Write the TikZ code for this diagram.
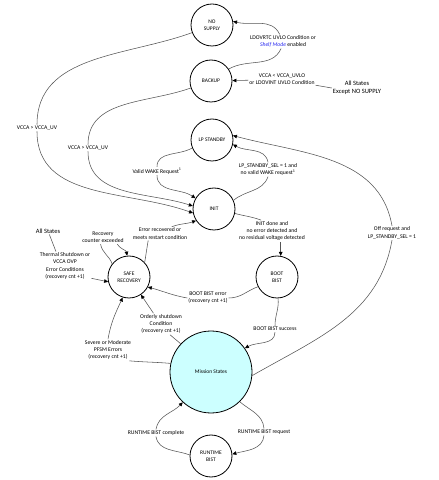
\documentclass[tikz,border=0pt]{standalone}
\usepackage{fontspec}
\setmainfont{Carlito}
\usetikzlibrary{arrows.meta}
\definecolor{missioncyan}{HTML}{CCFFFF}
\definecolor{linegray}{HTML}{555555}
\definecolor{shelfblue}{HTML}{2A2AF0}

\begin{document}
\begin{tikzpicture}[x=1pt,y=1pt,
    state/.style={draw=black, line width=0.8pt, circle, minimum size=42pt, inner sep=0pt,
      align=center, font=\fontsize{5.5}{6.8}\selectfont},
    txt/.style={align=center, inner sep=1pt, font=\fontsize{5.7}{7.2}\selectfont},
    bigtxt/.style={align=center, inner sep=1pt, font=\fontsize{6.5}{8}\selectfont},
    conn/.style={draw=linegray, line width=0.55pt},
    connarrow/.style={conn, -{Triangle[length=4pt,width=3.6pt,color=black]}}]
    \useasboundingbox (0,0) rectangle (439,480);

    % States
    \node[state] (nosupply) at (212,455) {NO\\SUPPLY};
    \node[state] (backup) at (211,399) {BACKUP};
    \node[state] (lpstandby) at (212,340) {LP STANDBY};
    \node[state] (init) at (214,271) {INIT};
    \node[state] (saferec) at (129,203) {SAFE\\RECOVERY};
    \node[state] (bootbist) at (277,203) {BOOT\\BIST};
    \node[state, fill=missioncyan, minimum size=82pt] (mission) at (211,108) {Mission States};
    \node[state] (runtime) at (211,24) {RUNTIME\\BIST};

    % Labels
    \node[txt] (lblldo) at (283,438.5) {LDOVRTC UVLO Condition or\\{\color{shelfblue}\itshape Shelf Mode} enabled};
    \node[txt] (lblvcca) at (282,400.5) {VCCA < VCCA\_UVLO\\or LDOVINT UVLO Condition};
    \node[bigtxt] (allstates1) at (357,392) {All States\\Except NO SUPPLY};
    \node[txt] (lblvouter) at (37,352) {VCCA > VCCA\_UV};
    \node[txt] (lblvinner) at (88,332) {VCCA > VCCA\_UV};
    \node[txt] (lblwake) at (157,309) {Valid WAKE Request\textsuperscript{1}};
    \node[txt] (lblsel) at (268,310.5) {LP\_STANDBY\_SEL = 1 and\\no valid WAKE request\textsuperscript{1}};
    \node[txt] (lbloff) at (392,247) {Off request and\\LP\_STANDBY\_SEL = 1};
    \node[txt] (lblinitdone) at (272,249) {INIT done and\\no error detected and\\no residual voltage detected};
    \node[txt] (lblbooterr) at (208,182) {BOOT BIST error\\(recovery cnt +1)};
    \node[txt] (lblbootok) at (275,151) {BOOT BIST success};
    \node[txt] (lblreccnt) at (103,242.5) {Recovery\\counter exceeded};
    \node[txt] (lblerrrec) at (160,246.5) {Error recovered or\\meets restart condition};
    \node[bigtxt] (allstates2) at (48,249) {All States};
    \node[txt] (lblthermal) at (65,214) {Thermal Shutdown or\\VCCA OVP\\Error Conditions\\(recovery cnt +1)};
    \node[txt] (lblorderly) at (161,156) {Orderly shutdown\\Condition\\(recovery cnt +1)};
    \node[txt] (lblsevere) at (108,130) {Severe or Moderate\\PFSM Errors\\(recovery cnt +1)};
    \node[txt] (lblrtdone) at (156,47) {RUNTIME BIST complete};
    \node[txt] (lblrtreq) at (264,48) {RUNTIME BIST request};

    % Supply transitions
    \draw[conn] (backup.34) to[out=30,in=-115] (lblldo.-105);
    \draw[connarrow] (lblldo.115) to[out=115,in=-15] (nosupply.10);
    \draw[conn] (allstates1.west) -- (lblvcca);
    \draw[connarrow] (lblvcca) -- (backup);
    \draw[conn] (nosupply.201) to[out=200,in=90] (lblvouter.north);
    \draw[connarrow] (lblvouter.south) to[out=-90,in=160] (init.191);
    \draw[conn] (backup.199) to[out=200,in=90] (lblvinner.north);
    \draw[connarrow] (lblvinner.south) to[out=-90,in=162] (init.172);

    % Standby transitions
    \draw[conn] (lpstandby.202) to[out=210,in=90] (lblwake.north);
    \draw[connarrow] (lblwake.south) to[out=-90,in=145] (init.150);
    \draw[conn] (init.24) to[out=40,in=-110] (lblsel.south);
    \draw[connarrow] (lblsel.north) to[out=100,in=-30] (lpstandby.-12);
    \draw[conn] (mission.-5) to[out=30,in=-100] (lbloff.south);
    \draw[connarrow] (lbloff.north) to[out=100,in=-15] (lpstandby.12);

    % Boot
    \draw[conn] (init.-12) to[out=-15,in=160] (lblinitdone.135);
    \draw[connarrow] (lblinitdone.south -| bootbist.80) -- (bootbist.80);
    \draw[conn] (bootbist.207) to[out=200,in=0] (lblbooterr.east);
    \draw[connarrow] (lblbooterr.west) to[out=170,in=-15] (saferec.-28);
    \draw[conn] (bootbist.-87) to[out=-85,in=90] (lblbootok.north);
    \draw[connarrow] (lblbootok.south) to[out=-90,in=30] (mission.35);

    % Safe recovery
    \draw[conn] (saferec.142) to[out=110,in=-80] (lblreccnt.-110);
    \draw[connarrow] (lblreccnt.-25) to[out=-60,in=100] (saferec.95);
    \draw[conn] (saferec.43) to[out=80,in=-100] (lblerrrec.-150);
    \draw[connarrow] (lblerrrec.30) to[out=20,in=200] (init.213);
    \draw[conn] (allstates2) -- (lblthermal.122);
    \draw[connarrow] (lblthermal.-25) -- (saferec.193);
    \draw[conn] (mission.137) -- (lblorderly.-50);
    \draw[connarrow] (lblorderly.125) -- (saferec.-56);
    \draw[conn] (mission.168) to[out=175,in=-5] (lblsevere.-27);
    \draw[connarrow] (lblsevere.north) to[out=80,in=-115] (saferec.-107);

    % Runtime BIST
    \draw[conn] (runtime.177) to[out=160,in=-80] (lblrtdone.south);
    \draw[connarrow] (lblrtdone.north) to[out=80,in=-133] (mission.227);
    \draw[conn] (mission.-46) to[out=-40,in=95] (lblrtreq.north);
    \draw[connarrow] (lblrtreq.south) to[out=-95,in=15] (runtime.5);
\end{tikzpicture}
\end{document}
